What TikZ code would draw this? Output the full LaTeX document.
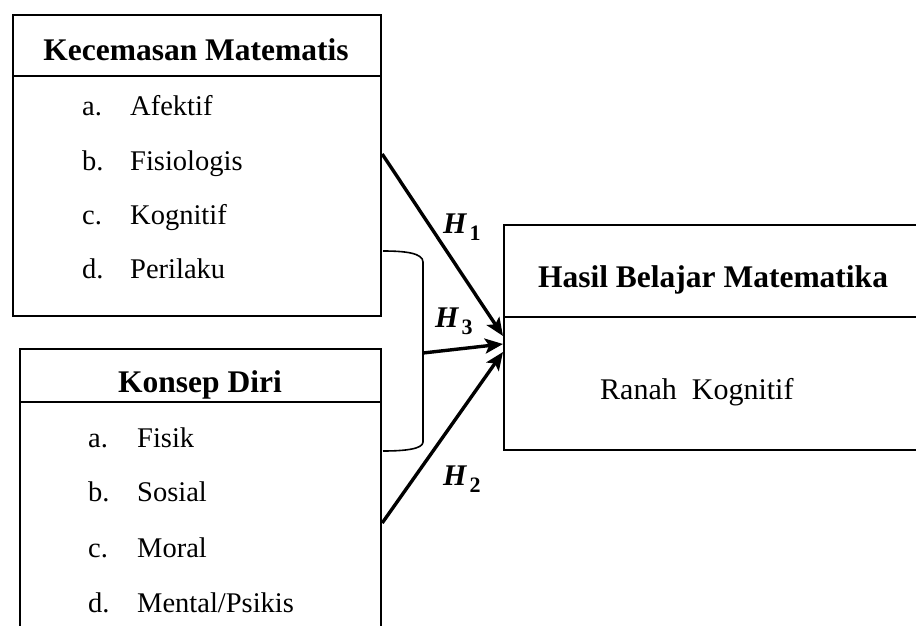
\documentclass[tikz,border=0pt]{standalone}
\usepackage{fontspec}
\setmainfont{Liberation Serif}
\usetikzlibrary{arrows.meta}
\newcommand{\hyplabel}[1]{\textit{H}\kern3pt\raisebox{-7pt}{\fontsize{22}{22}\selectfont\upshape\bfseries #1}}
\begin{document}
\begin{tikzpicture}[x=1pt,y=-1pt,
  box/.style={draw,line width=2.2pt,rectangle,inner sep=0pt,anchor=north west},
  ttl/.style={font=\fontsize{31.5}{31.5}\selectfont\bfseries,anchor=base,inner sep=0pt},
  itm/.style={font=\fontsize{28.5}{28.5}\selectfont,anchor=base west,inner sep=0pt},
  hyp/.style={font=\fontsize{30}{30}\selectfont\bfseries\itshape,anchor=base west,inner sep=0pt},
  arr/.style={line width=3.4pt,-{Stealth[length=18pt,width=15pt,inset=4pt]}},
  sep/.style={line width=1.8pt}]
\useasboundingbox (0,0) rectangle (916,626);
\clip (0,0) rectangle (916,626);

% Box 1
\node[box,minimum width=368pt,minimum height=301pt] (b1) at (12,14) {};
\draw[sep] (b1.west |- 0,76) -- (b1.east |- 0,76);
\node[ttl] (t1) at (196,60) {Kecemasan Matematis};
\node[itm] (l1a) at (82,115) {a.};
\node[itm] (i1a) at (130,115) {Afektif};
\node[itm] (l1b) at (82,170) {b.};
\node[itm] (i1b) at (130,170) {Fisiologis};
\node[itm] (l1c) at (82,224) {c.};
\node[itm] (i1c) at (130,224) {Kognitif};
\node[itm] (l1d) at (82,278) {d.};
\node[itm] (i1d) at (130,278) {Perilaku};

% Box 2
\node[box,minimum width=361pt,minimum height=320pt] (b2) at (19,348) {};
\draw[sep] (b2.west |- 0,402) -- (b2.east |- 0,402);
\node[ttl] (t2) at (200,392) {Konsep Diri};
\node[itm] (l2a) at (88,447) {a.};
\node[itm] (i2a) at (137,447) {Fisik};
\node[itm] (l2b) at (88,501) {b.};
\node[itm] (i2b) at (137,501) {Sosial};
\node[itm] (l2c) at (88,557) {c.};
\node[itm] (i2c) at (137,557) {Moral};
\node[itm] (l2d) at (88,612) {d.};
\node[itm] (i2d) at (137,612) {Mental/Psikis};

% Box 3
\node[box,minimum width=430pt,minimum height=225pt] (b3) at (503,224) {};
\draw[sep] (b3.west |- 0,317) -- (b3.east |- 0,317);
\node[ttl] (t3) at (713,287) {Hasil Belajar Matematika};
\node[itm,font=\fontsize{30}{30}\selectfont] (r3) at (600,399) {Ranah\ \ Kognitif};

% Bracket
\draw[line width=1.6pt] (383,251) .. controls (405,251) and (423,253) .. (423,262)
  coordinate (brtop) -- (423,442) .. controls (423,449) and (405,451) .. (383,451);
\coordinate (br) at (423,353);

% Arrows
\coordinate (s1) at (b1.east |- 0,154);
\coordinate (s2) at (b2.east |- 0,523);
\coordinate (e1) at (b3.west |- 0,336);
\coordinate (e3) at (b3.west |- 0,344);
\coordinate (e2) at (b3.west |- 0,352);
\draw[arr] (s1) -- (e1);
\draw[arr] (br) -- (e3);
\draw[arr] (s2) -- (e2);

% Labels
\node[hyp] (h1) at (443,233) {\hyplabel{1}};
\node[hyp] (h3) at (435,327) {\hyplabel{3}};
\node[hyp] (h2) at (443,485) {\hyplabel{2}};
\end{tikzpicture}
\end{document}
